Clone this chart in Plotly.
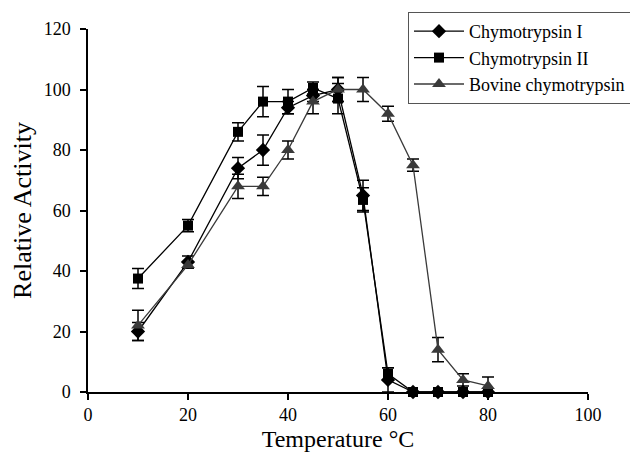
import plotly.graph_objects as go

temps = [10, 20, 30, 35, 40, 45, 50, 55, 60, 65, 70, 75, 80]

chymo1 = [20, 43, 74, 80, 94, 98, 100, 65, 4, 0, 0, 0, 0]
chymo1_err = [3, 2, 3.5, 5, 2, 2, 4, 5, 4, 0, 0, 0, 0]

chymo2 = [37.5, 55, 86, 96, 96, 100.5, 97, 63.5, 6, 0, 0, 0, 0]
chymo2_err = [3.3, 2, 3, 5, 4, 2, 5, 4, 2, 0, 0, 0, 0]

bovine = [22, 42, 68, 68, 80, 96, 100, 100, 92, 75, 14, 4, 2]
bovine_err = [5, 1, 4, 3, 3, 4, 4, 4, 2.5, 2, 4, 2, 3]

names = ["Chymotrypsin I", "Chymotrypsin II", "Bovine chymotrypsin"]

fig = go.Figure()

series = [
    (chymo1, chymo1_err, names[0], "diamond", 11, "black"),
    (chymo2, chymo2_err, names[1], "square", 10, "black"),
    (bovine, bovine_err, names[2], "triangle-up", 12, "#3a3a3a"),
]
for vals, err, name, sym, sz, col in series:
    fig.add_trace(go.Scatter(
        x=temps, y=vals, name=name, mode="lines+markers",
        line=dict(color=col, width=1.3),
        marker=dict(symbol=sym, size=sz, color=col),
        error_y=dict(type="data", array=err, visible=True, color="black",
                     thickness=1.5, width=6),
        cliponaxis=False,
    ))

font_family = "Liberation Serif"

W, H = 630, 444
fig.update_layout(
    width=W, height=H,
    margin=dict(l=80, r=50, t=21, b=60, autoexpand=False),
    paper_bgcolor="white", plot_bgcolor="white",
    font=dict(family=font_family, color="black", size=18),
    showlegend=True,
    legend=dict(
        xref="container", yref="container",
        x=400 / W, y=1 - 4 / H, xanchor="left", yanchor="top",
        bgcolor="white", bordercolor="#555555", borderwidth=1,
        font=dict(size=18, family=font_family),
        tracegroupgap=0, itemsizing="trace", itemwidth=50,
    ),
    xaxis=dict(
        range=[0, 100], dtick=20, showgrid=False, zeroline=False,
        showline=True, linecolor="black", linewidth=1.5,
        ticks="outside", ticklen=6, tickcolor="black", tickwidth=1.5,
        title=dict(text="Temperature °C", font=dict(size=24, family=font_family), standoff=8),
        tickfont=dict(size=18, family=font_family), automargin=False,
    ),
    yaxis=dict(
        range=[0, 120], dtick=20, showgrid=False, zeroline=False,
        showline=True, linecolor="black", linewidth=1.5,
        ticks="outside", ticklen=6, tickcolor="black", tickwidth=1.5,
        ticklabelstandoff=6,
        title=dict(text="Relative Activity", font=dict(size=26, family=font_family), standoff=12),
        tickfont=dict(size=18, family=font_family), automargin=False,
    ),
)

fig.write_html("out.html")
